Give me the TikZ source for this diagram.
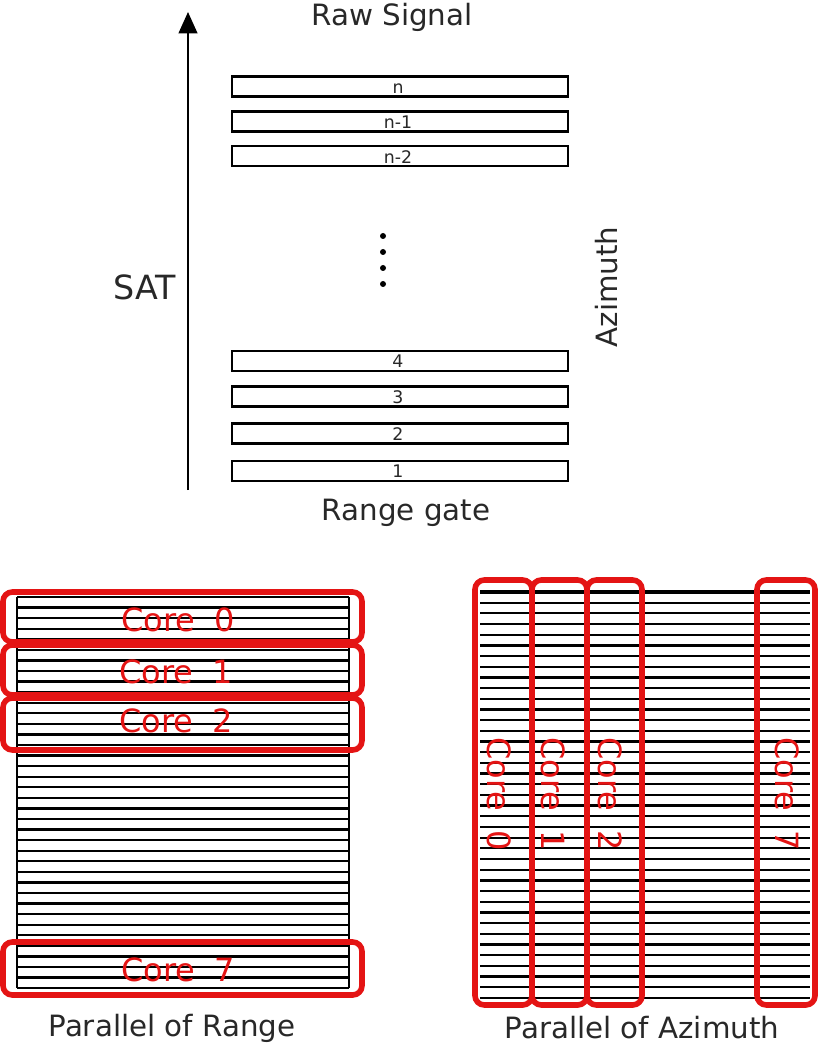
\documentclass[tikz,border=0pt]{standalone}
\usepackage{fontspec}
\setmainfont{DejaVu Sans}
\usetikzlibrary{arrows.meta}
\definecolor{corered}{RGB}{228,20,20}
\definecolor{txtgray}{RGB}{40,40,40}
\begin{document}
\begin{tikzpicture}[x=0.75pt,y=-0.75pt,
  lbl/.style={font=\fontsize{22}{26}\selectfont, text=txtgray, inner sep=0pt},
  gate/.style={draw=black, line width=1.6pt, fill=white, minimum width=336*0.75pt, minimum height=20*0.75pt, inner sep=0pt},
  gatelbl/.style={font=\fontsize{13}{14}\selectfont, text=txtgray, inner sep=0pt, anchor=base},
  stripe/.style={draw=black, line width=1.7pt},
  corebox/.style={draw=corered, line width=4.2pt, rounded corners=7pt, inner sep=0pt},
  corelbl/.style={font=\fontsize{24}{26}\selectfont, text=corered, inner sep=0pt},
  dot/.style={circle, fill=black, minimum size=6*0.75pt, inner sep=0pt}
]
\useasboundingbox (0,0) rectangle (827,1048);

% ---------------- top part ----------------
\coordinate (satbot) at (188,490);
\coordinate (sattop) at (188,12);
\draw[line width=1.6pt, -{Triangle[length=16pt,width=14pt]}] (satbot) -- (sattop);

\node[lbl] (raw) at (392,17) {Raw Signal};
\node[lbl, font=\fontsize{25}{28}\selectfont] (sat) at (145,287) {SAT};
\node[lbl, rotate=90] (azi) at (607,287) {Azimuth};
\node[lbl] (rg) at (406,513) {Range gate};

\node[gate] (gn)  at (400,86.5) {};
\node[gate] (gn1) at (400,121.5) {};
\node[gate] (gn2) at (400,156) {};
\node[gate] (g4)  at (400,361) {};
\node[gate] (g3)  at (400,396.5) {};
\node[gate] (g2)  at (400,433.5) {};
\node[gate] (g1)  at (400,471) {};
\node[gatelbl] (ln)  at (398,94) {n};
\node[gatelbl] (ln1) at (398,129) {n-1};
\node[gatelbl] (ln2) at (398,163.5) {n-2};
\node[gatelbl] (l4)  at (398,367) {4};
\node[gatelbl] (l3)  at (398,403) {3};
\node[gatelbl] (l2)  at (398,440) {2};
\node[gatelbl] (l1)  at (398,477) {1};

\node[dot] (d1) at (383,236) {};
\node[dot] (d2) at (383,252) {};
\node[dot] (d3) at (383,268) {};
\node[dot] (d4) at (383,284) {};

% ---------------- parallel of range ----------------
\foreach \i in {0,...,37} {
  \draw[stripe] (17,{597+\i*10.57}) -- (349,{597+\i*10.57});
}
\draw[stripe] (17,597) -- (17,988);
\draw[stripe] (349,597) -- (349,988);

\node[corebox, minimum width=359*0.75pt, minimum height=50*0.75pt] (rc0) at (182.5,617) {};
\node[corebox, minimum width=359*0.75pt, minimum height=50*0.75pt] (rc1) at (182.5,670) {};
\node[corebox, minimum width=359*0.75pt, minimum height=52*0.75pt] (rc2) at (182.5,724) {};
\node[corebox, minimum width=359*0.75pt, minimum height=53*0.75pt] (rc7) at (182.5,968.5) {};
\node[corelbl] (lc0) at (178,620) {Core\hspace{0.6em}0};
\node[corelbl] (lc1) at (176,672) {Core\hspace{0.6em}1};
\node[corelbl] (lc2) at (176,721) {Core\hspace{0.6em}2};
\node[corelbl] (lc7) at (178,970) {Core\hspace{0.6em}7};

\node[lbl] (por) at (172,1028) {Parallel of Range};

% ---------------- parallel of azimuth ----------------
\foreach \i in {0,...,38} {
  \draw[stripe] (480,{592+\i*10.68}) -- (810,{592+\i*10.68});
}
\draw[stripe, line width=2.6pt] (480,592) -- (810,592);

\node[corebox, minimum width=57*0.75pt, minimum height=425*0.75pt] (ac0) at (503.5,792.5) {};
\node[corebox, minimum width=55*0.75pt, minimum height=425*0.75pt] (ac1) at (559.5,792.5) {};
\node[corebox, minimum width=55*0.75pt, minimum height=425*0.75pt] (ac2) at (614.5,792.5) {};
\node[corebox, minimum width=58*0.75pt, minimum height=425*0.75pt] (ac7) at (786,792.5) {};
\node[corelbl, rotate=-90] (tc0) at (499,794) {Core\hspace{0.6em}0};
\node[corelbl, rotate=-90] (tc1) at (553,794) {Core\hspace{0.6em}1};
\node[corelbl, rotate=-90] (tc2) at (610,794) {Core\hspace{0.6em}2};
\node[corelbl, rotate=-90] (tc7) at (787,794) {Core\hspace{0.6em}7};

\node[lbl] (poa) at (642,1028) {Parallel of Azimuth};
\end{tikzpicture}
\end{document}
